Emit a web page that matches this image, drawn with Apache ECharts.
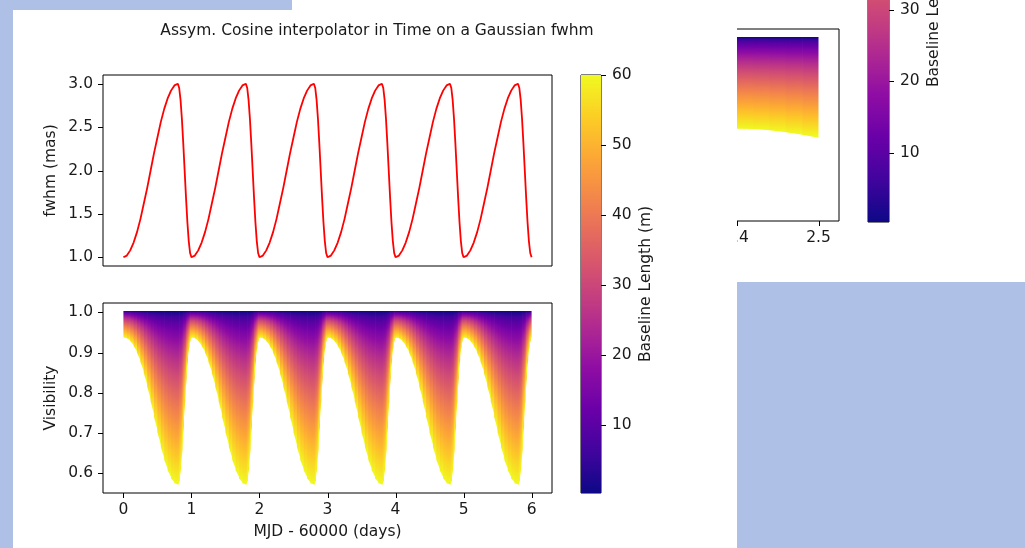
<!DOCTYPE html>
<html><head><meta charset="utf-8">
<script src="https://cdn.jsdelivr.net/npm/echarts@6/dist/echarts.min.js"></script>
<style>
html,body{margin:0;padding:0;width:1025px;height:548px;overflow:hidden;background:#aec0e6;}
#bgTop{position:absolute;left:292px;top:0;width:445px;height:10px;background:#fff}
#bgMain{position:absolute;left:13px;top:10px;width:724px;height:538px;background:#fff}
#bgRight{position:absolute;left:737px;top:0;width:288px;height:282px;background:#fff;overflow:hidden}
#main{position:absolute;left:0;top:0;width:1025px;height:548px}
#side{position:absolute;left:-449px;top:-220px;width:737px;height:502px}
</style></head>
<body>
<div id="bgTop"></div><div id="bgMain"></div>
<div id="bgRight"><div id="side"></div></div>
<div id="main"></div>
<script>
// ---------- data ----------
const titleText = 'Assym. Cosine interpolator in Time on a Gaussian fwhm';
const xTicks = [0, 1, 2, 3, 4, 5, 6];
const fwhmTicks = [1.0, 1.5, 2.0, 2.5, 3.0];
const visTicks = [0.6, 0.7, 0.8, 0.9, 1.0];
const baselineTicks = [10, 20, 30, 40, 50, 60];
const baselineMin = 0.3;
const baselineMax = 60;

const times = [
  0.00,0.05,0.10,0.15,0.20,0.25,0.30,0.35,0.40,0.45,0.50,0.55,0.60,0.65,0.70,0.75,0.80,0.82,0.84,0.86,0.88,0.90,0.92,0.94,0.96,0.98,
  1.00,1.05,1.10,1.15,1.20,1.25,1.30,1.35,1.40,1.45,1.50,1.55,1.60,1.65,1.70,1.75,1.80,1.82,1.84,1.86,1.88,1.90,1.92,1.94,1.96,1.98,
  2.00,2.05,2.10,2.15,2.20,2.25,2.30,2.35,2.40,2.45,2.50,2.55,2.60,2.65,2.70,2.75,2.80,2.82,2.84,2.86,2.88,2.90,2.92,2.94,2.96,2.98,
  3.00,3.05,3.10,3.15,3.20,3.25,3.30,3.35,3.40,3.45,3.50,3.55,3.60,3.65,3.70,3.75,3.80,3.82,3.84,3.86,3.88,3.90,3.92,3.94,3.96,3.98,
  4.00,4.05,4.10,4.15,4.20,4.25,4.30,4.35,4.40,4.45,4.50,4.55,4.60,4.65,4.70,4.75,4.80,4.82,4.84,4.86,4.88,4.90,4.92,4.94,4.96,4.98,
  5.00,5.05,5.10,5.15,5.20,5.25,5.30,5.35,5.40,5.45,5.50,5.55,5.60,5.65,5.70,5.75,5.80,5.82,5.84,5.86,5.88,5.90,5.92,5.94,5.96,5.98,
  6.00
];
const fwhm = [
  1.00,1.02,1.08,1.17,1.29,1.44,1.62,1.80,2.00,2.20,2.38,2.56,2.71,2.83,2.92,2.98,3.00,2.95,2.81,2.59,2.31,2.00,1.69,1.41,1.19,1.05,
  1.00,1.02,1.08,1.17,1.29,1.44,1.62,1.80,2.00,2.20,2.38,2.56,2.71,2.83,2.92,2.98,3.00,2.95,2.81,2.59,2.31,2.00,1.69,1.41,1.19,1.05,
  1.00,1.02,1.08,1.17,1.29,1.44,1.62,1.80,2.00,2.20,2.38,2.56,2.71,2.83,2.92,2.98,3.00,2.95,2.81,2.59,2.31,2.00,1.69,1.41,1.19,1.05,
  1.00,1.02,1.08,1.17,1.29,1.44,1.62,1.80,2.00,2.20,2.38,2.56,2.71,2.83,2.92,2.98,3.00,2.95,2.81,2.59,2.31,2.00,1.69,1.41,1.19,1.05,
  1.00,1.02,1.08,1.17,1.29,1.44,1.62,1.80,2.00,2.20,2.38,2.56,2.71,2.83,2.92,2.98,3.00,2.95,2.81,2.59,2.31,2.00,1.69,1.41,1.19,1.05,
  1.00,1.02,1.08,1.17,1.29,1.44,1.62,1.80,2.00,2.20,2.38,2.56,2.71,2.83,2.92,2.98,3.00,2.95,2.81,2.59,2.31,2.00,1.69,1.41,1.19,1.05,
  1.00
];
// lowest visibility (longest baseline, 60 m) at each time
const visMin = [
  0.940,0.938,0.931,0.919,0.902,0.879,0.851,0.817,0.781,0.742,0.704,0.667,0.635,0.609,0.589,0.577,0.573,0.583,0.614,0.661,0.719,0.781,0.838,0.884,0.916,0.934,
  0.940,0.938,0.931,0.919,0.902,0.879,0.851,0.817,0.781,0.742,0.704,0.667,0.635,0.609,0.589,0.577,0.573,0.583,0.614,0.661,0.719,0.781,0.838,0.884,0.916,0.934,
  0.940,0.938,0.931,0.919,0.902,0.879,0.851,0.817,0.781,0.742,0.704,0.667,0.635,0.609,0.589,0.577,0.573,0.583,0.614,0.661,0.719,0.781,0.838,0.884,0.916,0.934,
  0.940,0.938,0.931,0.919,0.902,0.879,0.851,0.817,0.781,0.742,0.704,0.667,0.635,0.609,0.589,0.577,0.573,0.583,0.614,0.661,0.719,0.781,0.838,0.884,0.916,0.934,
  0.940,0.938,0.931,0.919,0.902,0.879,0.851,0.817,0.781,0.742,0.704,0.667,0.635,0.609,0.589,0.577,0.573,0.583,0.614,0.661,0.719,0.781,0.838,0.884,0.916,0.934,
  0.940,0.938,0.931,0.919,0.902,0.879,0.851,0.817,0.781,0.742,0.704,0.667,0.635,0.609,0.589,0.577,0.573,0.583,0.614,0.661,0.719,0.781,0.838,0.884,0.916,0.934,
  0.940
];
// partially visible second figure (right panel)
const sideTimes = [2.00,2.10,2.20,2.30,2.36,2.40,2.42,2.44,2.46,2.48,2.50];
const sideVisMin = [0.781,0.781,0.781,0.781,0.781,0.780,0.779,0.776,0.771,0.765,0.758];
const sideXTicks = [2.0, 2.1, 2.2, 2.3, 2.4, 2.5];

// axis ranges
const xRange = [-0.3, 6.3];
const fwhmRange = [0.9, 3.1];
const visRange = [0.55, 1.0234];
const sideXRange = [1.975, 2.525];

// ---------- styling helpers ----------
const FONT = 'DejaVu Sans';
const TXT = '#1a1a1a';
const FS = 15.5;
const TICK_LEN = 5;
const plasmaHex = ['#0d0887','#41049d','#6a00a8','#8f0da4','#b12a90','#cc4778','#e16462','#f2844b','#fca636','#fcce25','#f0f921'];
const plasmaRGB = plasmaHex.map(h => [1,3,5].map(k => parseInt(h.substr(k,2),16)));
function plasma(t) {
  t = Math.max(0, Math.min(1, t));
  const p = t * 10, i = Math.min(9, Math.floor(p)), f = p - i;
  const a = plasmaRGB[i], b = plasmaRGB[i+1];
  return 'rgb(' + a.map((v,k) => Math.round(v + (b[k]-v)*f)).join(',') + ')';
}
// colour down a visibility column: fraction f from V=1 (top) to the minimum (bottom)
function columnStops() {
  const stops = [];
  const N = 30;
  for (let k = 0; k <= N; k++) {
    const f = k / N;
    stops.push({offset: f, color: plasma(Math.pow(f, 0.68))});
  }
  return stops;
}
const COL_STOPS = columnStops();
function makeFillRenderer(ts, vs) {
  return function (params, api) {
    const i = params.dataIndex;
    if (i >= ts.length - 1) return null;
    const a = api.coord([ts[i], 1.0]);
    const b = api.coord([ts[i+1], 1.0]);
    const c = api.coord([ts[i+1], vs[i+1]]);
    const d = api.coord([ts[i], vs[i]]);
    const vm = (vs[i] + vs[i+1]) / 2;
    const yTop = a[1] - 1.5;
    const yBot = api.coord([ts[i], vm])[1] + 1;
    const ext = (i < ts.length - 2) ? 0.7 : 0;
    return {
      type: 'polygon',
      shape: {points: [[a[0], yTop], [b[0] + ext, yTop], [c[0] + ext, c[1] + 1], [d[0], d[1] + 1]]},
      style: {fill: {type: 'linear', x: 0, y: yTop, x2: 0, y2: yBot, global: true, colorStops: COL_STOPS}}
    };
  };
}
function colorbarRenderer(params, api) {
  const tl = api.coord([0, baselineMax]);
  const br = api.coord([1, baselineMin]);
  const stops = [];
  for (let k = 0; k <= 20; k++) stops.push({offset: k / 20, color: plasma(1 - k / 20)});
  return {type: 'rect', shape: {x: tl[0], y: tl[1], width: br[0] - tl[0], height: br[1] - tl[1]},
    style: {fill: {type: 'linear', x: 0, y: 0, x2: 0, y2: 1, colorStops: stops}}};
}
// outward tick marks, positioned through the axes' own scales
function tickRenderer(dir) {
  return function (params, api) {
    const p = api.coord([api.value(0), api.value(1)]);
    let x1, y1, x2, y2;
    if (dir === 'left' || dir === 'right') {
      y1 = y2 = Math.round(p[1]) + 0.5;
      x1 = Math.round(p[0]);
      x2 = x1 + (dir === 'left' ? -TICK_LEN : TICK_LEN);
    } else {
      x1 = x2 = Math.round(p[0]) + 0.5;
      y1 = Math.round(p[1]);
      y2 = y1 + TICK_LEN;
    }
    return {type: 'line', shape: {x1, y1, x2, y2}, style: {stroke: '#000', lineWidth: 1}};
  };
}
function tickSeries(xi, yi, data, dir) {
  return {type: 'custom', xAxisIndex: xi, yAxisIndex: yi, silent: true, clip: false, z: 5,
    data: data, renderItem: tickRenderer(dir)};
}
const lbl = (extra) => Object.assign({color: TXT, fontFamily: FONT, fontSize: FS}, extra || {});
const gridBox = {show: true, borderColor: '#000', borderWidth: 1, backgroundColor: 'transparent'};
function valAxis(o) {
  return Object.assign({
    type: 'value', splitLine: {show: false},
    axisLine: {show: false, onZero: false},
    axisTick: {show: false},
    axisLabel: lbl({margin: 10}),
    nameTextStyle: lbl()
  }, o);
}

// ---------- main figure ----------
const main = echarts.init(document.getElementById('main'));
main.setOption({
  animation: false,
  backgroundColor: 'transparent',
  title: {text: titleText, left: 372, top: 18, textAlign: 'center',
    textStyle: {color: TXT, fontFamily: FONT, fontSize: FS, fontWeight: 'normal'}},
  grid: [
    Object.assign({left: 103, top: 75, width: 449, height: 191}, gridBox),
    Object.assign({left: 103, top: 303, width: 449, height: 190}, gridBox),
    Object.assign({left: 581, top: 75, width: 20, height: 418}, gridBox)
  ],
  xAxis: [
    valAxis({gridIndex: 0, min: xRange[0], max: xRange[1], axisLabel: {show: false}}),
    valAxis({gridIndex: 1, min: xRange[0], max: xRange[1],
      axisLabel: lbl({margin: 9, customValues: xTicks, formatter: v => String(Math.round(v))}),
      name: 'MJD - 60000 (days)', nameLocation: 'middle', nameGap: 31}),
    {gridIndex: 2, type: 'value', min: 0, max: 1, show: false}
  ],
  yAxis: [
    valAxis({gridIndex: 0, min: fwhmRange[0], max: fwhmRange[1],
      axisLabel: lbl({margin: 10, customValues: fwhmTicks, formatter: v => v.toFixed(1)}),
      name: 'fwhm (mas)', nameLocation: 'middle', nameGap: 44}),
    valAxis({gridIndex: 1, min: visRange[0], max: visRange[1],
      axisLabel: lbl({margin: 10, customValues: visTicks, formatter: v => v.toFixed(1)}),
      name: 'Visibility', nameLocation: 'middle', nameGap: 44}),
    valAxis({gridIndex: 2, min: baselineMin, max: baselineMax, position: 'right',
      axisLabel: lbl({margin: 11, customValues: baselineTicks, formatter: v => String(Math.round(v))}),
      name: 'Baseline Length (m)', nameLocation: 'middle', nameGap: 37, nameRotate: 90})
  ],
  series: [
    {type: 'line', xAxisIndex: 0, yAxisIndex: 0, showSymbol: false, silent: true,
      data: times.map((t, i) => [t, fwhm[i]]), lineStyle: {color: '#ff0000', width: 1.8}},
    {type: 'custom', xAxisIndex: 1, yAxisIndex: 1, silent: true,
      data: times.map((t, i) => [t, visMin[i]]), renderItem: makeFillRenderer(times, visMin)},
    {type: 'custom', xAxisIndex: 2, yAxisIndex: 2, silent: true,
      data: [[0, baselineMax]], renderItem: colorbarRenderer},
    tickSeries(0, 0, fwhmTicks.map(v => [xRange[0], v]), 'left'),
    tickSeries(1, 1, visTicks.map(v => [xRange[0], v]), 'left'),
    tickSeries(1, 1, xTicks.map(v => [v, visRange[0]]), 'bottom'),
    tickSeries(2, 2, baselineTicks.map(v => [1, v]), 'right')
  ]
});

// ---------- partially visible second figure ----------
const side = echarts.init(document.getElementById('side'));
side.setOption({
  animation: false,
  backgroundColor: 'transparent',
  grid: [
    Object.assign({left: 100, top: 249, width: 451, height: 192}, gridBox),
    Object.assign({left: 580, top: 16, width: 21, height: 426}, gridBox)
  ],
  xAxis: [
    valAxis({gridIndex: 0, min: sideXRange[0], max: sideXRange[1],
      axisLabel: lbl({margin: 9, customValues: sideXTicks, formatter: v => v.toFixed(1)})}),
    {gridIndex: 1, type: 'value', min: 0, max: 1, show: false}
  ],
  yAxis: [
    valAxis({gridIndex: 0, min: visRange[0], max: visRange[1],
      axisLabel: lbl({margin: 10, customValues: visTicks, formatter: v => v.toFixed(1)})}),
    valAxis({gridIndex: 1, min: baselineMin, max: baselineMax, position: 'right',
      axisLabel: lbl({margin: 11, customValues: baselineTicks, formatter: v => String(Math.round(v))}),
      name: 'Baseline Length (m)', nameLocation: 'middle', nameGap: 37, nameRotate: 90})
  ],
  series: [
    {type: 'custom', xAxisIndex: 0, yAxisIndex: 0, silent: true,
      data: sideTimes.map((t, i) => [t, sideVisMin[i]]), renderItem: makeFillRenderer(sideTimes, sideVisMin)},
    {type: 'custom', xAxisIndex: 1, yAxisIndex: 1, silent: true,
      data: [[0, baselineMax]], renderItem: colorbarRenderer},
    tickSeries(0, 0, visTicks.map(v => [sideXRange[0], v]), 'left'),
    tickSeries(0, 0, sideXTicks.map(v => [v, visRange[0]]), 'bottom'),
    tickSeries(1, 1, baselineTicks.map(v => [1, v]), 'right')
  ]
});
</script>
</body></html>
